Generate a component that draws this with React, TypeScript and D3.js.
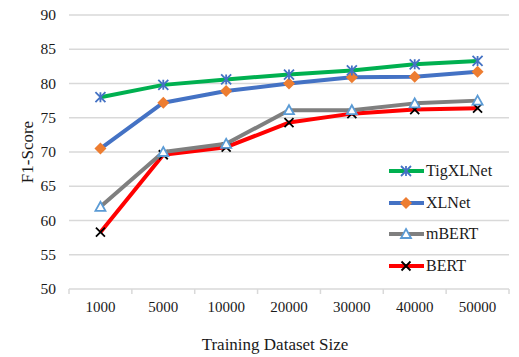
import { useRef, useEffect } from "react"
import * as d3 from "d3"

const sizes = ["1000", "5000", "10000", "20000", "30000", "40000", "50000"]
const tigXLNet = [78.0, 79.8, 80.6, 81.3, 81.9, 82.8, 83.3]
const xlNet = [70.5, 77.2, 78.9, 80.0, 80.9, 81.0, 81.7]
const mBERT = [62.0, 70.0, 71.2, 76.1, 76.1, 77.1, 77.5]
const bert = [58.3, 69.6, 70.7, 74.3, 75.6, 76.2, 76.4]
const yTicks = [50, 55, 60, 65, 70, 75, 80, 85, 90]

const series = [
  { name: "TigXLNet", values: tigXLNet, line: "#00B050", marker: "star", mColor: "#4472C4" },
  { name: "XLNet", values: xlNet, line: "#4472C4", marker: "diamond", mColor: "#ED7D31" },
  { name: "mBERT", values: mBERT, line: "#7F7F7F", marker: "triangle", mColor: "#5B9BD5" },
  { name: "BERT", values: bert, line: "#FF0000", marker: "x", mColor: "#000000" },
]

const drawMarker = (g: any, type: string, color: string, cx: number, cy: number) => {
  if (type === "star") {
    const r = 5
    g.append("path")
      .attr("d", `M${cx - r},${cy - r}L${cx + r},${cy + r}M${cx - r},${cy + r}L${cx + r},${cy - r}M${cx},${cy - r}L${cx},${cy + r}`)
      .attr("stroke", color).attr("stroke-width", 1.8).attr("fill", "none")
  } else if (type === "diamond") {
    const r = 6
    g.append("path")
      .attr("d", `M${cx},${cy - r}L${cx + r},${cy}L${cx},${cy + r}L${cx - r},${cy}Z`)
      .attr("fill", color)
  } else if (type === "triangle") {
    const r = 5
    g.append("path")
      .attr("d", `M${cx},${cy - r}L${cx + r},${cy + r * 0.8}L${cx - r},${cy + r * 0.8}Z`)
      .attr("fill", "white").attr("stroke", color).attr("stroke-width", 1.8)
  } else {
    const r = 4.5
    g.append("path")
      .attr("d", `M${cx - r},${cy - r}L${cx + r},${cy + r}M${cx - r},${cy + r}L${cx + r},${cy - r}`)
      .attr("stroke", color).attr("stroke-width", 1.8).attr("fill", "none")
  }
}

const App = () => {
  const svgRef = useRef<SVGSVGElement>(null)

  useEffect(() => {
    const svg = d3.select(svgRef.current)
    svg.selectAll("*").remove()

    const left = 69, right = 509, top = 15, bottom = 289
    const font = "'Liberation Serif', 'Times New Roman', serif"

    const x = d3.scaleBand().domain(sizes).range([left, right])
    const y = d3.scaleLinear().domain([50, 90]).range([bottom, top])

    // gridlines
    svg.append("g").selectAll("line").data(yTicks.slice(1)).enter().append("line")
      .attr("x1", left).attr("x2", right)
      .attr("y1", (d) => y(d)).attr("y2", (d) => y(d))
      .attr("stroke", "#D9D9D9").attr("stroke-width", 1.5)

    // x axis line and ticks
    svg.append("line").attr("x1", left).attr("x2", right).attr("y1", bottom).attr("y2", bottom)
      .attr("stroke", "#D9D9D9").attr("stroke-width", 1.5)
    const bounds = sizes.map((s) => x(s)!).concat([right])
    svg.append("g").selectAll("line").data(bounds).enter().append("line")
      .attr("x1", (d) => d).attr("x2", (d) => d).attr("y1", bottom).attr("y2", bottom + 5)
      .attr("stroke", "#D9D9D9").attr("stroke-width", 1.5)

    // y labels
    svg.append("g").selectAll("text").data(yTicks).enter().append("text")
      .attr("x", 56).attr("y", (d) => y(d) + 5)
      .attr("text-anchor", "end")
      .style("font-family", font).style("font-size", "15.5px").style("fill", "#1a1a1a")
      .text((d) => d)

    // x labels
    svg.append("g").selectAll("text").data(sizes).enter().append("text")
      .attr("x", (d) => x(d)! + x.bandwidth() / 2).attr("y", 312)
      .attr("text-anchor", "middle")
      .style("font-family", font).style("font-size", "15px").style("fill", "#1a1a1a")
      .text((d) => d)

    // axis titles
    svg.append("text").attr("x", 275).attr("y", 350).attr("text-anchor", "middle")
      .style("font-family", font).style("font-size", "17px").style("fill", "#1a1a1a")
      .text("Training Dataset Size")
    svg.append("text").attr("transform", "translate(33,152) rotate(-90)").attr("text-anchor", "middle")
      .style("font-family", font).style("font-size", "17px").style("fill", "#1a1a1a")
      .text("F1-Score")

    const line = d3.line<number>()
      .x((_, i) => x(sizes[i])! + x.bandwidth() / 2)
      .y((d) => y(d))

    // draw in reverse so TigXLNet sits on top
    const drawOrder = [...series].reverse()
    drawOrder.forEach((s) => {
      svg.append("path").datum(s.values)
        .attr("fill", "none").attr("stroke", s.line).attr("stroke-width", 4)
        .attr("stroke-linejoin", "round").attr("d", line)
      const mg = svg.append("g")
      s.values.forEach((v, i) => drawMarker(mg, s.marker, s.mColor, x(sizes[i])! + x.bandwidth() / 2, y(v)))
    })

    // legend
    const legendY = [171, 203, 234, 266]
    series.forEach((s, i) => {
      const g = svg.append("g")
      g.append("line").attr("x1", 389).attr("x2", 424).attr("y1", legendY[i]).attr("y2", legendY[i])
        .attr("stroke", s.line).attr("stroke-width", 4)
      drawMarker(g, s.marker, s.mColor, 406, legendY[i])
      g.append("text").attr("x", 426).attr("y", legendY[i] + 5)
        .style("font-family", font).style("font-size", "16px").style("fill", "#1a1a1a")
        .text(s.name)
    })
  }, [])

  return (
    <div style={{ position: "absolute", left: 0, top: 0 }}>
      <svg ref={svgRef} width={519} height={357} style={{ display: "block", background: "white" }}></svg>
    </div>
  )
}

export default App
